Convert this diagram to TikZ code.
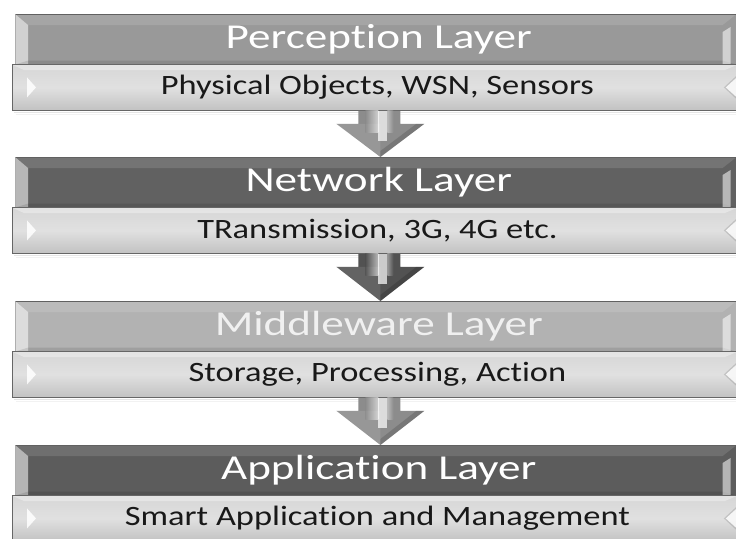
\documentclass[tikz,border=0pt]{standalone}
\usepackage{fontspec}
\setmainfont{Carlito}
\newfontfamily\hdrfont[FakeStretch=1.29, Ligatures=NoCommon]{Carlito}
\newfontfamily\subfont[FakeStretch=1.23, Ligatures=NoCommon]{Carlito}
\usetikzlibrary{calc}

\tikzset{
  hdr/.style={rectangle, anchor=north west, minimum width=721pt, minimum height=50pt,
    inner sep=0pt, font=\hdrfont\fontsize{35}{38}\selectfont, draw=black!70, line width=0.6pt},
  subbox/.style={rectangle, anchor=north west, minimum width=724pt, minimum height=46pt,
    inner sep=0pt, font=\subfont\fontsize{28}{30}\selectfont, text=black!90,
    top color=black!16, bottom color=black!24, middle color=black!12,
    draw=black!60, line width=0.8pt},
  bevel/.style={fill=white, opacity=#1},
  shadowline/.style={draw=black, opacity=#1, line width=1pt}
}

% one layer: name, top, header colour, title colour, title, subtitle
\newcommand\Layer[6]{%
  \node[hdr, fill=#3, text=#4] (#1h) at (15,#2) {\hspace{6pt}#5};
  \fill[white, opacity=0.12] (#1h.north west) -- (#1h.north east) -- ++(-14,11) -- ($(#1h.north west)+(13,11)$) -- cycle;
  \fill[bevel=0.55] (#1h.north west) -- ++(13,11) -- ($(#1h.south west)+(13,0)$) -- (#1h.south west) -- cycle;
  \fill[black, opacity=0.10] ($(#1h.south west)+(13,-4)$) -- ($(#1h.south east)+(-14,-4)$) -- (#1h.south east) -- (#1h.south west) -- cycle;
  \fill[bevel=0.55] ($(#1h.north east)+(-14,18)$) -- ($(#1h.north east)+(-6,13)$) -- ($(#1h.south east)+(-6,0)$) -- ($(#1h.south east)+(-14,0)$) -- cycle;
  \node[subbox] (#1s) at (12,#2+50) {\hspace{6pt}#6};
  \draw[shadowline=0.10] ($(#1s.south west)+(2,2)$) -- ($(#1s.south east)+(0,2)$);
  \draw[shadowline=0.05] ($(#1s.south west)+(4,4)$) -- ($(#1s.south east)+(0,4)$);
  \fill[bevel=0.35] ($(#1s.north west)+(1,1)$) -- ($(#1s.north east)+(0,1)$) -- ($(#1s.north east)+(-12,6)$) -- ($(#1s.north west)+(12,6)$) -- cycle;
  \fill[bevel=0.85] ($(#1s.west)+(15,-10)$) -- ($(#1s.west)+(24,0)$) -- ($(#1s.west)+(15,10)$) -- cycle;
  \fill[black, opacity=0.12] ($(#1s.east)+(0,-12)$) -- ($(#1s.east)+(-13,0)$) -- ($(#1s.east)+(0,12)$) -- cycle;
  \fill[bevel=0.85] ($(#1s.east)+(0,-10)$) -- ($(#1s.east)+(-11,0)$) -- ($(#1s.east)+(0,10)$) -- cycle;
}

% block arrow joining one layer's lower box to the next header
\newcommand\LayerArrow[3]{%
  \fill[#3] let \p1=(#1s.south), \p2=(#2h.north) in
    (\x1-16pt,\y1) -- (\x1+26pt,\y1) -- (\x1+26pt,\y1-13pt) -- (\x1+50pt,\y1-13pt)
    -- (\x1+6pt,\y2) -- (\x1-38pt,\y1-13pt) -- (\x1-16pt,\y1-13pt) -- cycle;
  \fill[white, opacity=0.10] let \p1=(#1s.south), \p2=(#2h.north) in
    (\x1-38pt,\y1-13pt) -- (\x1+6pt,\y2) -- (\x1+6pt,\y1-13pt) -- cycle;
  \fill[black, opacity=0.15] let \p1=(#1s.south), \p2=(#2h.north) in
    (\x1+50pt,\y1-13pt) -- (\x1+6pt,\y2) -- (\x1+6pt,\y2+6pt) -- (\x1+42pt,\y1-13pt) -- cycle;
  \shade[left color=#3, right color=white, opacity=0.6] let \p1=(#1s.south) in
    (\x1-9pt,\y1) rectangle (\x1+4pt,\y1-22pt);
  \fill[white, opacity=0.7] let \p1=(#1s.south) in
    (\x1+4pt,\y1) rectangle (\x1+13pt,\y1-30pt);
  \shade[left color=white, right color=#3, opacity=0.4] let \p1=(#1s.south) in
    (\x1+13pt,\y1) rectangle (\x1+19pt,\y1-22pt);
}

\begin{document}
\begin{tikzpicture}[x=1pt, y=-1pt]
  \useasboundingbox (0,0) rectangle (736,538);
  \fill[white] (0,0) rectangle (736,538);

  \Layer{per}{14}{black!40}{white}{Perception Layer}{Physical Objects, WSN, Sensors}
  \Layer{net}{157}{black!62}{white}{Network Layer}{TRansmission, 3G, 4G etc.}
  \Layer{mid}{301}{black!30}{black!6}{Middleware Layer}{Storage, Processing, Action}
  \Layer{app}{445}{black!64}{white}{Application Layer}{Smart Application and Management}

  \LayerArrow{per}{net}{black!45}
  \LayerArrow{net}{mid}{black!68}
  \LayerArrow{mid}{app}{black!45}
\end{tikzpicture}
\end{document}
